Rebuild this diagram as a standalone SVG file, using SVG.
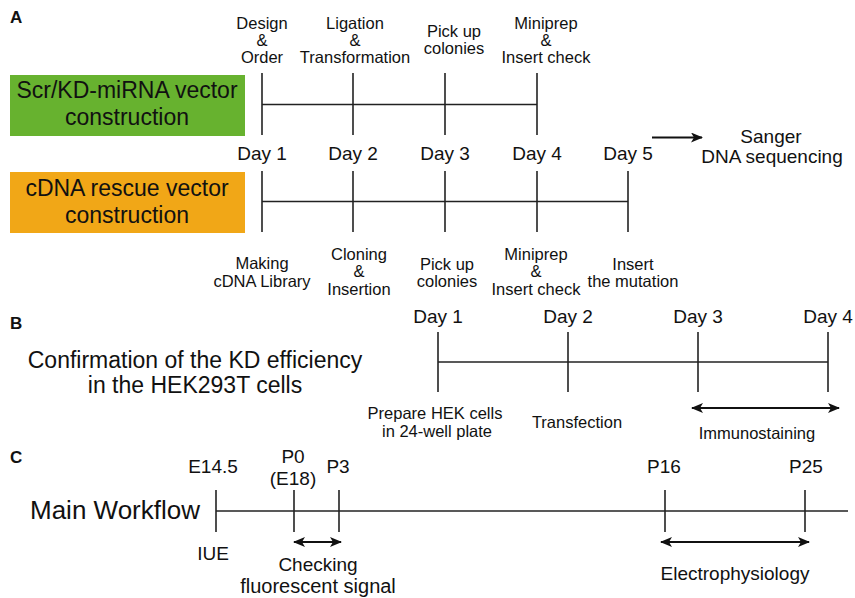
<svg xmlns="http://www.w3.org/2000/svg" width="855" height="598" viewBox="0 0 855 598">
<defs>
<style>
text{font-family:"Liberation Sans",Arial,sans-serif;fill:#111;text-anchor:middle}
.pl{font-weight:bold;font-size:17px;text-anchor:start}
.s{font-size:16.5px}
.d{font-size:19px}
.big{font-size:23px}
.ln{stroke:#222;stroke-width:1.6;fill:none}
.ar{stroke:#111;stroke-width:1.8;fill:none}
</style>
<marker id="ah" viewBox="0 0 12 10" refX="11" refY="5" markerWidth="12" markerHeight="10" markerUnits="userSpaceOnUse" orient="auto-start-reverse">
<path d="M0,0 L12,5 L0,10 L3,5 z" fill="#111"/>
</marker>
</defs>
<rect width="855" height="598" fill="#fff"/>

<text class="pl" x="10" y="23">A</text>
<text class="pl" x="10" y="329">B</text>
<text class="pl" x="10" y="463">C</text>

<g id="boxA1">
<rect x="10" y="75" width="235" height="61" fill="#67B22F"/>
<text class="big" x="127" y="98">Scr/KD-miRNA vector</text>
<text class="big" x="127" y="125">construction</text>
</g>
<g id="boxA2">
<rect x="10" y="172" width="235" height="61" fill="#F1A717"/>
<text class="big" x="127" y="196">cDNA rescue vector</text>
<text class="big" x="127" y="223">construction</text>
</g>

<g id="connectors">
<line class="ln" x1="262" y1="104.5" x2="537" y2="104.5"/>
<line class="ln" x1="262" y1="73" x2="262" y2="135"/>
<line class="ln" x1="353" y1="73" x2="353" y2="135"/>
<line class="ln" x1="445" y1="73" x2="445" y2="135"/>
<line class="ln" x1="537" y1="73" x2="537" y2="135"/>
<line class="ln" x1="262" y1="201.5" x2="628" y2="201.5"/>
<line class="ln" x1="262" y1="171" x2="262" y2="232"/>
<line class="ln" x1="353" y1="171" x2="353" y2="232"/>
<line class="ln" x1="445" y1="171" x2="445" y2="232"/>
<line class="ln" x1="537" y1="171" x2="537" y2="232"/>
<line class="ln" x1="628" y1="171" x2="628" y2="232"/>
<line class="ar" x1="652" y1="137.5" x2="702" y2="137.5" marker-end="url(#ah)"/>
<line class="ln" x1="438" y1="362" x2="828" y2="362"/>
<line class="ln" x1="438" y1="332" x2="438" y2="392"/>
<line class="ln" x1="568" y1="332" x2="568" y2="392"/>
<line class="ln" x1="698" y1="332" x2="698" y2="392"/>
<line class="ln" x1="828" y1="332" x2="828" y2="392"/>
<line class="ar" x1="692" y1="408" x2="839" y2="408" marker-start="url(#ah)" marker-end="url(#ah)"/>
<line class="ln" x1="216" y1="511" x2="848" y2="511"/>
<line class="ln" x1="216" y1="490" x2="216" y2="532"/>
<line class="ln" x1="294" y1="490" x2="294" y2="532"/>
<line class="ln" x1="339" y1="490" x2="339" y2="532"/>
<line class="ln" x1="665" y1="490" x2="665" y2="532"/>
<line class="ln" x1="805" y1="490" x2="805" y2="532"/>
<line class="ar" x1="294" y1="542" x2="341" y2="542" marker-start="url(#ah)" marker-end="url(#ah)"/>
<line class="ar" x1="661" y1="542" x2="809" y2="542" marker-start="url(#ah)" marker-end="url(#ah)"/>
</g>

<g id="A-top-labels">
<text class="s" x="262" y="29">Design</text>
<text class="s" x="262" y="46">&amp;</text>
<text class="s" x="262" y="63">Order</text>
<text class="s" x="355" y="29">Ligation</text>
<text class="s" x="355" y="46">&amp;</text>
<text class="s" x="355" y="63">Transformation</text>
<text class="s" x="454" y="37">Pick up</text>
<text class="s" x="454" y="54">colonies</text>
<text class="s" x="546" y="29">Miniprep</text>
<text class="s" x="546" y="46">&amp;</text>
<text class="s" x="546" y="63">Insert check</text>
</g>

<g id="A-days">
<text class="d" x="262" y="160">Day 1</text>
<text class="d" x="353" y="160">Day 2</text>
<text class="d" x="445" y="160">Day 3</text>
<text class="d" x="537" y="160">Day 4</text>
<text class="d" x="628" y="160">Day 5</text>
</g>

<g id="sanger">
<text class="d" x="771" y="143">Sanger</text>
<text class="d" x="772" y="163">DNA sequencing</text>
</g>

<g id="A-bottom-labels">
<text class="s" x="262" y="269">Making</text>
<text class="s" x="262" y="287">cDNA Library</text>
<text class="s" x="359" y="260">Cloning</text>
<text class="s" x="359" y="277">&amp;</text>
<text class="s" x="359" y="295">Insertion</text>
<text class="s" x="447" y="270">Pick up</text>
<text class="s" x="447" y="287">colonies</text>
<text class="s" x="536" y="260">Miniprep</text>
<text class="s" x="536" y="277">&amp;</text>
<text class="s" x="536" y="295">Insert check</text>
<text class="s" x="633" y="270">Insert</text>
<text class="s" x="633" y="287">the mutation</text>
</g>

<g id="B">
<text class="big" x="195" y="368">Confirmation of the KD efficiency</text>
<text class="big" x="195" y="393">in the HEK293T cells</text>
<text class="d" x="438" y="323">Day 1</text>
<text class="d" x="568" y="323">Day 2</text>
<text class="d" x="698" y="323">Day 3</text>
<text class="d" x="828" y="323">Day 4</text>
<text class="s" x="435" y="419">Prepare HEK cells</text>
<text class="s" x="437" y="437">in 24-well plate</text>
<text class="s" x="577" y="428">Transfection</text>
<text class="s" x="757" y="439">Immunostaining</text>
</g>

<g id="C">
<text x="115" y="519" style="font-size:26px">Main Workflow</text>
<text class="d" x="213" y="473">E14.5</text>
<text class="d" x="293" y="463">P0</text>
<text class="d" x="293" y="485">(E18)</text>
<text class="d" x="338" y="473">P3</text>
<text class="d" x="664" y="473">P16</text>
<text class="d" x="806" y="473">P25</text>
<text class="d" x="213" y="560">IUE</text>
<text class="d" x="318" y="571">Checking</text>
<text x="318" y="593" style="font-size:20px">fluorescent signal</text>
<text class="d" x="735" y="580">Electrophysiology</text>
</g>
</svg>
